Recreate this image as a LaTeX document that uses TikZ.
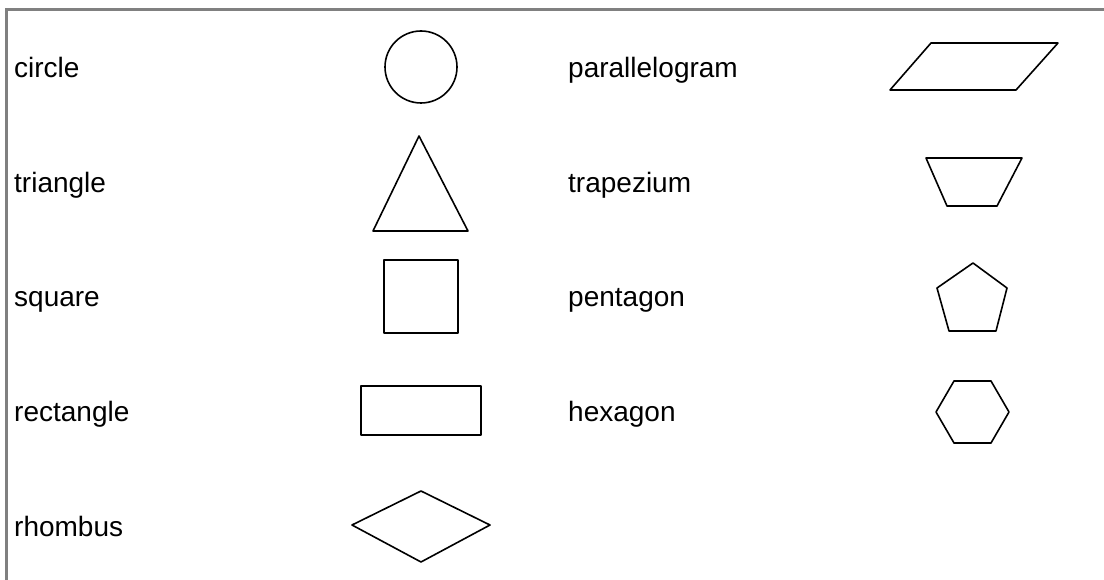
\documentclass[tikz,border=0pt]{standalone}
\usepackage{fontspec}
\setmainfont{Liberation Sans}
\usepackage{xcolor}
\usepackage{tikz}
\usetikzlibrary{positioning}
\definecolor{framec}{HTML}{808080}

\begin{document}
\begin{tikzpicture}[x=1pt, y=-1pt, font=\fontsize{28}{34}\selectfont,
    lbl/.style={anchor=base west, inner sep=0pt},
    shp/.style={draw, line width=1.6pt, line join=round}]
  \useasboundingbox (0,0) rectangle (1104,580);
  \draw[framec, line width=2.5pt] (6.5,580) -- (6.5,9.5) -- (1104,9.5);
  \foreach \w [count=\i from 0] in {circle,triangle,square,rectangle,rhombus}
    \node[lbl] (l\w) at (14,{78+114.5*\i}) {\w};
  \foreach \w [count=\i from 0] in {parallelogram,trapezium,pentagon,hexagon}
    \node[lbl] (r\w) at (568,{78+114.5*\i}) {\w};
  \draw[shp] (421,67) circle[radius=36pt];
  \draw[shp] (419,136) -- (468,231) -- (373,231) -- cycle;
  \draw[shp] (384,260) rectangle (458,333);
  \draw[shp] (361,386) rectangle (481,435);
  \draw[shp] (352,525) -- (421,491) -- (490,525) -- (421,562) -- cycle;
  \draw[shp] (931,43) -- (1058,43) -- (1016,90) -- (890,90) -- cycle;
  \draw[shp] (926,158) -- (1022,158) -- (997,206) -- (947,206) -- cycle;
  \draw[shp] (973,263) -- (1007,288) -- (996,331) -- (949,331) -- (937,288) -- cycle;
  \draw[shp] (954,381) -- (991,381) -- (1009,412) -- (991,443) -- (954,443) -- (936,412) -- cycle;
\end{tikzpicture}
\end{document}
